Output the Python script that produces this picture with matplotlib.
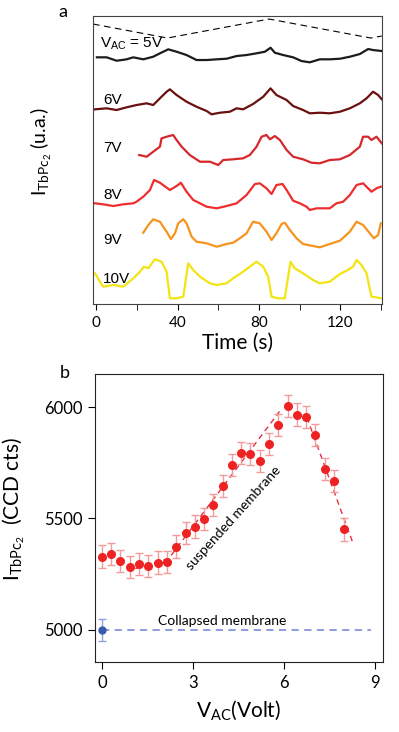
import matplotlib.pyplot as plt
from matplotlib.ticker import MultipleLocator

plt.rcParams['font.family'] = ['Lato', 'DejaVu Sans']

# ---- panel a: intensity traces (arbitrary units) vs time ----
drive_t = [-1.6, 35, 85, 135, 140.4]
drive_v = [280, 266, 285, 266, 268]

t_5v = [0.3, 5.1, 10.0, 14.9, 18.2, 23.1, 28.0, 31.3, 35.4, 39.5, 44.4, 49.3, 54.3, 59.2,
        64.1, 69.0, 73.9, 78.8, 82.9, 85.7, 87.8, 91.9, 96.8, 100.9, 105.0, 109.9, 114.8,
        119.8, 124.7, 129.6, 133.7, 136.1, 140.4]
y_5v = [246.7, 246.7, 243.3, 244.7, 246.7, 244.7, 247.3, 250.7, 254.7, 252.3, 249, 244, 244,
        244.7, 245.3, 248, 249, 250.7, 252.3, 256.3, 251.3, 249, 246.7, 243, 241.7, 244.7,
        244.7, 245.3, 247.3, 250, 255, 254, 253]

t_6v = [-0.6, 5.1, 10.0, 14.9, 19.8, 24.8, 28.0, 31.3, 34.6, 36.2, 39.5, 44.4, 49.3, 54.3,
        56.7, 60.8, 65.7, 69.0, 72.2, 77.1, 82.1, 85.7, 88.6, 93.6, 96.8, 101.7, 105.0,
        109.9, 114.8, 119.8, 124.7, 129.6, 132.9, 136.1, 138.6, 140.4]
y_6v = [194.7, 195.7, 194, 196.7, 199, 200.7, 199, 205.7, 212.3, 214.7, 209, 202.3, 197.3,
        193, 189.7, 191.3, 192.3, 195.7, 194.7, 200, 207.3, 215.7, 209, 204, 198, 194, 190.7,
        191.3, 190.7, 192.3, 195.7, 200.7, 205.7, 212.3, 209, 204.7]

t_7v = [21.1, 24.8, 28.0, 31.3, 32.1, 34.6, 37.8, 39.5, 42.0, 46.0, 51.0, 55.9, 60.0, 62.4,
        67.3, 72.2, 75.5, 78.8, 81.3, 83.7, 85.4, 87.8, 90.3, 93.6, 96.8, 101.7, 105.8,
        109.9, 114.8, 119.8, 124.7, 129.6, 131.2, 133.7, 135.3, 137.8, 140.4]
y_7v = [149, 147.3, 152.3, 157.3, 165.7, 167.3, 169, 164, 157.3, 149, 142.3, 142.3, 139, 144,
        144.7, 145.7, 149, 157.3, 167.3, 169, 164.7, 168, 164, 154, 147.3, 144.7, 141.3,
        140.7, 144, 144.7, 149, 157.3, 167.3, 167.3, 164, 167.3, 160.7]

t_8v = [-0.6, 3.4, 8.4, 13.3, 18.2, 19.8, 23.1, 26.4, 28.4, 31.3, 36.2, 39.5, 41.6, 44.4,
        47.7, 51.0, 54.3, 59.2, 64.1, 69.0, 73.9, 78.0, 80.4, 83.7, 86.2, 88.6, 91.6, 93.6,
        96.8, 100.1, 103.4, 105.0, 108.3, 114.8, 118.1, 121.4, 124.7, 128.0, 131.2, 135.3,
        137.8, 139.9]
y_8v = [100.7, 99.7, 98, 99.7, 100.7, 102.3, 107.3, 114, 124, 121.3, 114, 118, 121.3, 112.3,
        104, 100.7, 97.3, 95.7, 98, 100.7, 109, 120, 120.7, 115.7, 110, 119, 120, 114, 103.3,
        100.7, 97.3, 94, 95.7, 95.7, 100.7, 102.3, 109, 119, 120.7, 112.3, 115.7, 117.3]

t_9v = [23.1, 25.6, 28.0, 31.3, 34.6, 36.7, 38.7, 40.3, 42.8, 44.4, 46.9, 49.3, 54.3, 59.2,
        64.1, 67.3, 70.6, 73.9, 77.1, 80.4, 83.7, 86.2, 88.6, 91.1, 92.7, 95.2, 98.5, 101.7,
        106.6, 109.9, 114.8, 119.8, 124.7, 128.0, 131.2, 134.5, 136.5, 138.6, 139.9]
y_9v = [71.3, 79, 84.7, 82.3, 72.3, 65, 70.7, 80.7, 84.7, 80.7, 67.3, 62.3, 60.7, 57.3, 60,
        61.3, 65.7, 70.7, 82.3, 80.7, 72.3, 64, 70.7, 80, 81.3, 74, 65.7, 60, 58, 56.7, 60,
        63.3, 72.3, 82.3, 79, 70.7, 65.7, 69, 80.7]

t_10v = [-0.6, 1.8, 3.4, 8.4, 13.3, 18.2, 21.5, 23.4, 25.6, 28.8, 32.1, 34.6, 36.2, 39.5,
         42.8, 45.2, 47.7, 51.0, 55.9, 59.2, 64.1, 67.3, 72.2, 75.5, 78.8, 82.1, 84.5, 86.2,
         89.4, 92.7, 95.5, 97.6, 101.7, 106.6, 109.9, 114.8, 119.8, 123.0, 126.3, 128.0,
         130.4, 132.9, 135.3, 137.8, 139.9]
y_10v = [30.7, 22.3, 17.3, 19, 17.3, 25.7, 32.3, 37.3, 35.7, 44.7, 42.3, 32.3, 5.7, 5.7, 7.3,
         40.7, 34, 27.3, 20.7, 19, 20.7, 25.7, 32.3, 37.3, 42.3, 37.3, 27.3, 7.3, 5.7, 5.7,
         42.3, 35.7, 30.7, 24, 20.7, 22.3, 30, 33.3, 37.3, 44, 39, 30.7, 7.3, 6.7, 5.7]

trace_labels = ['6V', '7V', '8V', '9V', '10V']

# ---- panel b: intensity vs drive voltage ----
v_ac = [0, 0.31, 0.60, 0.91, 1.22, 1.53, 1.84, 2.14, 2.45, 2.76, 3.05, 3.36, 3.67, 3.98,
        4.29, 4.58, 4.89, 5.20, 5.51, 5.81, 6.12, 6.43, 6.73, 7.03, 7.34, 7.65, 7.96]
cts = [5329, 5341, 5310, 5283, 5296, 5287, 5302, 5305, 5374, 5436, 5464, 5499, 5562, 5647,
       5741, 5795, 5789, 5759, 5834, 5921, 6006, 5966, 5954, 5875, 5722, 5668, 5452]
cts_err = [50, 50, 50, 50, 50, 50, 50, 50, 50, 50, 50, 50, 50, 50, 50, 50, 50, 50, 50, 50,
           50, 50, 50, 50, 50, 50, 52]

collapsed_v = [0]
collapsed_cts = [5000]
collapsed_err = [50]
collapsed_line_v = [0, 8.86]

guide_up_v = [1.1, 2.2, 5.85]
guide_up_cts = [5275, 5320, 5980]
guide_down_v = [6.75, 8.29]
guide_down_cts = [5954, 5382]

fig = plt.figure(figsize=(3.99, 7.32), dpi=100)

# ---------------- panel a ----------------
ax1 = fig.add_axes([0.2331, 0.5847, 0.7243, 0.3934])
ax1.plot(drive_t, drive_v, color='black', lw=0.8, dashes=(6, 4))
ax1.plot(t_5v, y_5v, color='#1c1c1c', lw=1.6)
ax1.plot(t_6v, y_6v, color='#6b1010', lw=1.6)
ax1.plot(t_7v, y_7v, color='#d6282c', lw=1.6)
ax1.plot(t_8v, y_8v, color='#ee2e2e', lw=1.6)
ax1.plot(t_9v, y_9v, color='#f7941d', lw=1.6)
ax1.plot(t_10v, y_10v, color='#f3e414', lw=1.6)

lab_font = ['Liberation Sans', 'DejaVu Sans']
ax1.text(1.8, 260, r'$\mathregular{V_{AC}}$ = 5V', fontsize=11, family=lab_font, va='center')
label_y = [204, 156, 109, 64, 25]
for lab, yy in zip(trace_labels, label_y):
    ax1.text(3.4, yy, lab, fontsize=11, family=lab_font, va='center')

ax1.set_xlim(-1.6, 140.5)
ax1.set_ylim(0, 288)
ax1.set_yticks([])
ax1.xaxis.set_major_locator(MultipleLocator(40))
ax1.xaxis.set_minor_locator(MultipleLocator(20))
ax1.tick_params(axis='x', which='both', direction='out', length=4, labelsize=11, pad=5)
ax1.set_xlabel('Time (s)', fontsize=15, labelpad=2)
ax1.set_ylabel(r'$\mathregular{I_{TbPc_2}}$ (u.a.)', fontsize=14)
ax1.yaxis.set_label_coords(-0.135, 0.53)
for s in ax1.spines.values():
    s.set_color('#444444')
fig.text(0.158, 0.984, 'a', fontsize=13, va='center', ha='center')

# ---------------- panel b ----------------
ax2 = fig.add_axes([0.2381, 0.0956, 0.7218, 0.3934])
ax2.plot(collapsed_line_v, [collapsed_cts[0]] * 2, color='#8494dc', lw=1.3, dashes=(4, 3))
ax2.errorbar(collapsed_v, collapsed_cts, yerr=collapsed_err, fmt='o', color='#3a5bb0',
             ms=5, ecolor='#8fa0e0', elinewidth=1, capsize=3)
ax2.plot(guide_up_v, guide_up_cts, color='#e23040', lw=1, dashes=(4, 3))
ax2.plot(guide_down_v, guide_down_cts, color='#e23040', lw=1, dashes=(4, 3))
ax2.errorbar(v_ac, cts, yerr=cts_err, fmt='o', color='#ee2222', ms=5.5,
             ecolor='#f39a9a', elinewidth=1, capsize=3)

ax2.text(4.35, 5500, 'suspended membrane', rotation=48, fontsize=10,
         ha='center', va='center', rotation_mode='anchor')
ax2.text(3.95, 5040, 'Collapsed membrane', fontsize=10, ha='center', va='center')

ax2.set_xlim(-0.23, 9.26)
ax2.set_ylim(4856, 6148)
ax2.set_xticks([0, 3, 6, 9])
ax2.set_yticks([5000, 5500, 6000])
ax2.tick_params(direction='out', length=5, labelsize=12, pad=4)
ax2.set_xlabel(r'$\mathregular{V_{AC}}$(Volt)', fontsize=15, labelpad=6)
ax2.set_ylabel(r'$\mathregular{I_{TbPc_2}}$  (CCD cts)', fontsize=15)
ax2.yaxis.set_label_coords(-0.235, 0.53)
for s in ax2.spines.values():
    s.set_color('#222222')
fig.text(0.163, 0.49, 'b', fontsize=13, va='center', ha='center')

fig.savefig('out.png', dpi=100)
